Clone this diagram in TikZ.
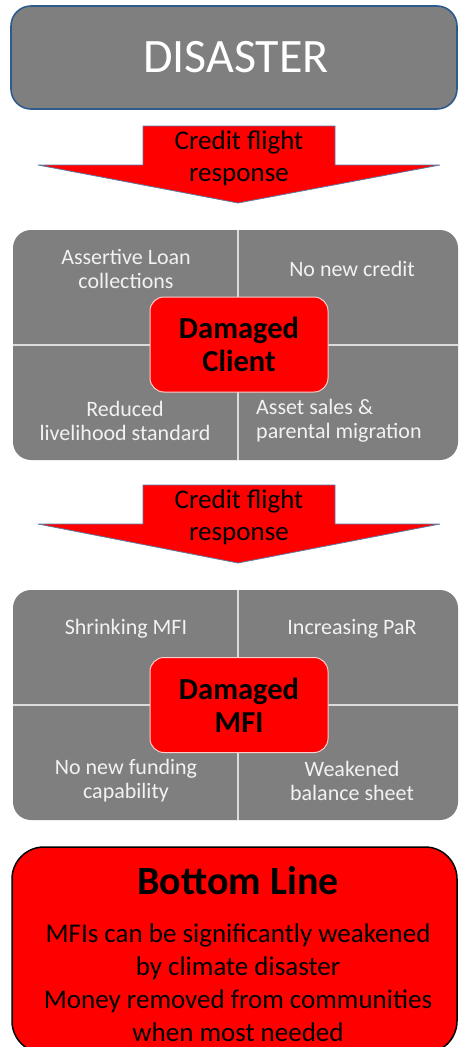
\documentclass[tikz,border=0pt]{standalone}
\usepackage{fontspec}
\setmainfont{Carlito}
\definecolor{panelgray}{HTML}{7F7F7F}
\definecolor{boxblue}{HTML}{2E5A8C}
\definecolor{arrowedge}{HTML}{5B7BA3}
\definecolor{divider}{HTML}{DCDCDC}
\definecolor{txtwhite}{HTML}{F2F2F2}
\begin{document}
\begin{tikzpicture}[x=1pt,y=-1pt,
  quadtext/.style={text=txtwhite, font=\fontsize{22}{24}\selectfont, align=center, inner sep=0pt},
  centerbox/.style={fill=red, draw=white!80!red, line width=1pt, rounded corners=14pt,
    minimum width=178pt, minimum height=95pt, inner sep=0pt,
    font=\bfseries\fontsize{30.5}{33}\selectfont, align=center},
  panel/.style={fill=panelgray, draw=none},
  divline/.style={draw=divider, line width=1.5pt},
  redarrow/.style={fill=red, draw=arrowedge, line width=0.8pt, line join=miter},
  arrowtext/.style={font=\fontsize{27}{32}\selectfont, align=center, inner sep=0pt}
]
\useasboundingbox (0,0) rectangle (459,1047);
\clip (0,0) rectangle (459,1047);

% Disaster box
\node[fill=panelgray, draw=boxblue, line width=1.6pt, rounded corners=20pt,
      minimum width=446pt, minimum height=103pt, inner sep=0pt,
      text=white, font=\fontsize{48}{55}\selectfont] (disaster) at (234,57.5) {\hspace*{4pt}DISASTER};

% Arrow 1
\path[redarrow] (143,126) -- (335,126) -- (335,165) -- (440,165) -- (238,203)
  -- (38,165) -- (143,165) -- cycle;
\node[arrowtext] (arrow1) at (239,158) {Credit flight\\response};

% Client panel
\path[panel, rounded corners=18pt] (13,230) rectangle (458,460);
\coordinate (c1t) at (238,230); \coordinate (c1b) at (238,460);
\coordinate (c1l) at (13,345);  \coordinate (c1r) at (458,345);
\draw[divline] (c1t) -- (c1b);
\draw[divline] (c1l) -- (c1r);
\node[quadtext] (q11) at (126,269) {Assertive Loan\\collections};
\node[quadtext] (q12) at (352,269) {No new credit};
\node[quadtext] (q13) at (125,421) {Reduced\\livelihood standard};
\node[quadtext, align=left, anchor=west] (q14) at (256,421) {Asset sales \&\\parental migration};
\node[centerbox] (client) at (239,344.5) {Damaged\\Client};

% Arrow 2
\path[redarrow] (143,485) -- (335,485) -- (335,524) -- (440,524) -- (238,563)
  -- (38,524) -- (143,524) -- cycle;
\node[arrowtext] (arrow2) at (239,517) {Credit flight\\response};

% MFI panel
\path[panel, rounded corners=18pt] (13,590) rectangle (458,820);
\coordinate (c2t) at (238,590); \coordinate (c2b) at (238,820);
\coordinate (c2l) at (13,705);  \coordinate (c2r) at (458,705);
\draw[divline] (c2t) -- (c2b);
\draw[divline] (c2l) -- (c2r);
\node[quadtext] (q21) at (126,629) {Shrinking MFI};
\node[quadtext] (q22) at (352,629) {Increasing PaR};
\node[quadtext] (q23) at (126,781) {No new funding\\capability};
\node[quadtext] (q24) at (352,781) {Weakened\\balance sheet};
\node[centerbox] (mfi) at (239,705) {Damaged\\MFI};

% Bottom line box
\path[fill=red, draw=black, line width=1.5pt, rounded corners=32pt] (12,847) rectangle (457,1053);
\node[font=\bfseries\fontsize{40}{44}\selectfont, inner sep=0pt] (bottom) at (238,881) {Bottom Line};
\node[font=\fontsize{27}{33}\selectfont, align=center, inner sep=0pt] (bottomtext) at (238,983)
  {MFIs can be significantly weakened\\by climate disaster\\Money removed from communities\\when most needed};
\end{tikzpicture}
\end{document}
